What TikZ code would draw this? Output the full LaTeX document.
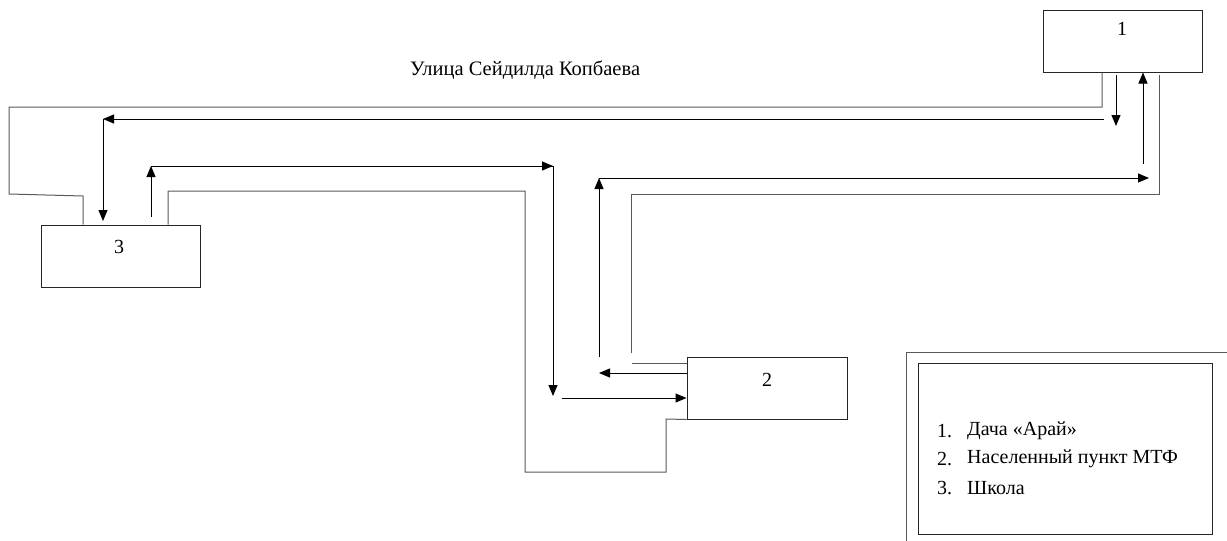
\documentclass[tikz,border=0pt]{standalone}
\usepackage{fontspec}
\setmainfont{Liberation Serif}
\usetikzlibrary{arrows.meta}
\begin{document}
\begin{tikzpicture}[x=1pt,y=-1pt,
  box/.style={draw=black!85,line width=1pt,rectangle,inner sep=0pt},
  lbl/.style={font=\fontsize{20}{24}\selectfont,inner sep=0pt},
  road/.style={draw=black!65,line width=1pt},
  arr/.style={draw=black,line width=1pt,-{Triangle[length=11pt,width=9pt]}}]
\useasboundingbox (0,0) rectangle (1227,541);
% boxes
\node[box,minimum width=159pt,minimum height=62pt] (b1) at (1122.5,41) {};
\node[box,minimum width=159pt,minimum height=62pt] (b3) at (120.5,256) {};
\node[box,minimum width=160pt,minimum height=62pt] (b2) at (767,388) {};
\node[lbl] (t1) at (1122,29) {1};
\node[lbl] (t3) at (119,247) {3};
\node[lbl] (t2) at (767,380) {2};
% street label
\node[lbl,font=\fontsize{20.5}{24}\selectfont,anchor=west] (street) at (410,70) {Улица Сейдилда Копбаева};
% coordinates
\coordinate (a1) at (b1.south west -| 1102,0);
\coordinate (a3) at (b3.north west -| 83,0);
\draw[road] (a1) -- (1102,107) -- (9,107) -- (9,194) -- (83,196) -- (a3);
% arrows 1 -> 3
\coordinate (p1) at (1104,119);
\coordinate (p2) at (103,119);
\coordinate (p3) at (103,221);
\draw[arr] (p1) -- (p2);
\draw[arr] (p2) -- (p3);
\coordinate (q1) at (b1.south west -| 1116,0);
\draw[arr] (1116,75) -- (1116,126);
% arrows 3 -> 2
\coordinate (r1) at (151,217);
\coordinate (r2) at (151,166);
\coordinate (r3) at (553,166);
\coordinate (r4) at (553,396);
\draw[arr] (r1) -- (r2);
\draw[draw=black,line width=1pt] (r2) -- (r3);
\draw[arr] (151,166) -- (r3);
\draw[arr] (r3) -- (r4);
\draw[arr] (562,398) -- (b2.west |- 0,398);
% road 3 -> 2
\coordinate (a3b) at (b3.north west -| 168,0);
\draw[road] (a3b) -- (168,191) -- (525,191) -- (525,472) -- (666,472) -- (666,419) -- (b2.south west);
% road 2 -> 1
\draw[road] (b2.west |- 0,363) -- (632,363);
\draw[road] (631,353) -- (631,194) -- (1159,194) -- (1159,75);
% arrows 2 -> 1
\draw[arr] (b2.west |- 0,373) -- (599,373);
\draw[arr] (599,357) -- (599,178);
\draw[draw=black,line width=1pt] (599,178) -- (1140,178);
\draw[arr] (1100,178) -- (1149,178);
\draw[arr] (1143,164) -- (b1.south west -| 1143,0);
% legend
\draw[road] (1227,352) -- (906,352) -- (906,541);
\node[box,minimum width=294pt,minimum height=171pt] (leg) at (1065,448.5) {};
\node[lbl,anchor=west] (l1) at (937,431) {1.};
\node[lbl,anchor=west] (l2) at (937,459) {2.};
\node[lbl,anchor=west] (l3) at (937,488) {3.};
\node[lbl,anchor=west] (m1) at (967,431) {Дача «Арай»};
\node[lbl,anchor=west] (m2) at (967,459) {Населенный пункт МТФ};
\node[lbl,anchor=west] (m3) at (967,488) {Школа};
\end{tikzpicture}
\end{document}
